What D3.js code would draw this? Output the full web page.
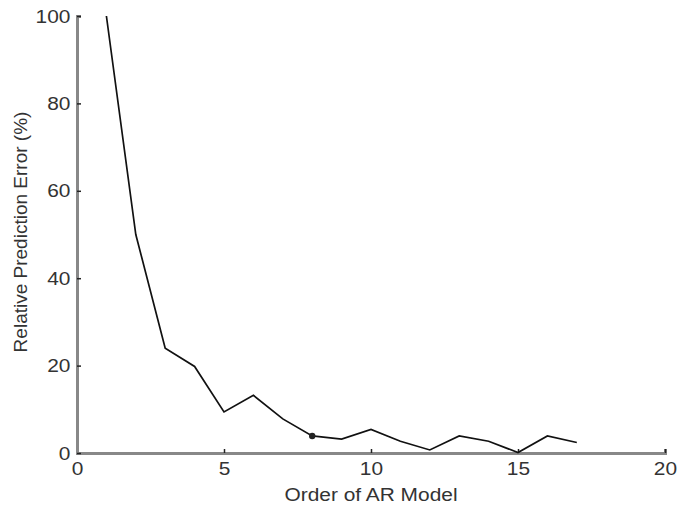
<!DOCTYPE html>
<html>
<head>
<meta charset="utf-8">
<script src="https://cdn.jsdelivr.net/npm/d3@7"></script>
<style>
  body { margin: 0; background: #fff; }
  text { font-family: "Liberation Sans", Arial, sans-serif; }
</style>
</head>
<body>
<div id="chart"></div>
<script>
// Data
const orders = [1, 2, 3, 4, 5, 6, 7, 8, 9, 10, 11, 12, 13, 14, 15, 16, 17];
const errors = [100, 50, 24, 19.8, 9.4, 13.2, 7.8, 3.9, 3.2, 5.4, 2.7, 0.7, 3.9, 2.7, 0.1, 3.9, 2.4];
const markedOrder = 8;
const xTicks = [0, 5, 10, 15, 20];
const yTicks = [0, 20, 40, 60, 80, 100];

const W = 677, H = 506;
const margin = { top: 16, right: 12, bottom: 53, left: 77 };
const width = 665 - margin.left;
const height = 453 - margin.top;
const fontSize = 19;
const stretch = 'scale(1.1,1)'; // the reference text is a bit wide

const x = d3.scaleLinear().domain([0, 20]).range([0, width]);
const y = d3.scaleLinear().domain([0, 100]).range([height, 0]);

const svg = d3.select('#chart')
  .append('svg')
  .attr('width', W)
  .attr('height', H)
  .append('g')
  .attr('transform', `translate(${margin.left},${margin.top})`);

// x axis, ticks point inward
const gx = svg.append('g')
  .attr('transform', `translate(0,${height})`)
  .call(d3.axisBottom(x).tickValues(xTicks).tickSize(-4).tickPadding(9));
gx.select('.domain').attr('stroke', '#888').attr('stroke-width', 3);
gx.selectAll('.tick line').attr('stroke', '#222').attr('stroke-width', 1.5);
gx.selectAll('.tick text').attr('font-size', fontSize).attr('fill', '#333').attr('transform', stretch);

// y axis
const gy = svg.append('g')
  .call(d3.axisLeft(y).tickValues(yTicks).tickSize(-4).tickPadding(6));
gy.select('.domain').attr('stroke', '#888').attr('stroke-width', 3);
gy.selectAll('.tick line').attr('stroke', '#222').attr('stroke-width', 1.5);
gy.selectAll('.tick text').attr('font-size', fontSize).attr('fill', '#333').attr('transform', stretch);

// line
const pts = orders.map((o, i) => [o, errors[i]]);
svg.append('path')
  .datum(pts)
  .attr('fill', 'none')
  .attr('stroke', '#111')
  .attr('stroke-width', 1.7)
  .attr('d', d3.line().x(d => x(d[0])).y(d => y(d[1])));

// marked point
const mi = orders.indexOf(markedOrder);
svg.append('circle')
  .attr('cx', x(orders[mi]))
  .attr('cy', y(errors[mi]))
  .attr('r', 3.2)
  .attr('fill', '#222');

// axis titles
svg.append('g')
  .attr('transform', `translate(${width / 2},${height + 48}) ${stretch}`)
  .append('text')
  .attr('text-anchor', 'middle')
  .attr('font-size', fontSize)
  .attr('fill', '#333')
  .text('Order of AR Model');

svg.append('text')
  .attr('transform', `translate(-50,216) rotate(-90)`)
  .attr('text-anchor', 'middle')
  .attr('font-size', fontSize)
  .attr('fill', '#333')
  .text('Relative Prediction Error (%)');
</script>
</body>
</html>
